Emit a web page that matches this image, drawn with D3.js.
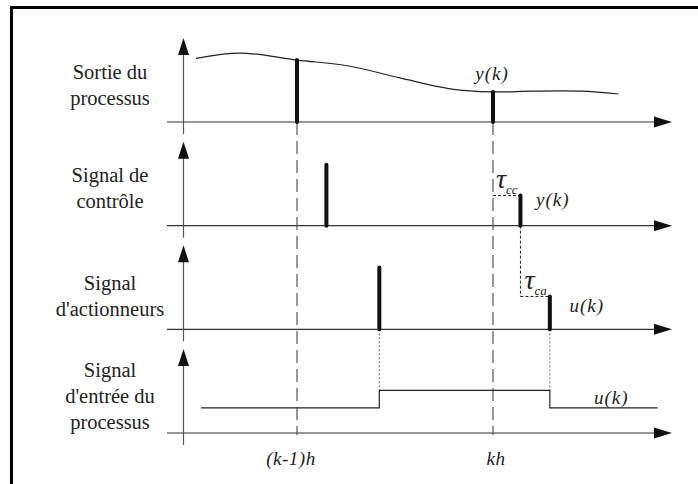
<!DOCTYPE html>
<html>
<head>
<meta charset="utf-8">
<script src="https://cdn.jsdelivr.net/npm/d3@7"></script>
<style>
  body { margin: 0; background: #fff; }
</style>
</head>
<body>
<div id="chart"></div>
<script>
// time is in tenths of a period: (k-1)h = 0, kh = 10
var panels = ["sortie", "controle", "action", "entree"];
var panelLabels = [
    ["Sortie du", "processus"],
    ["Signal de", "contrôle"],
    ["Signal", "d'actionneurs"],
    ["Signal", "d'entrée du", "processus"]
];

// process output (continuous curve)
var curveT = [-5.15, -2.9, 0, 2.65, 5.25, 7.9, 10, 12, 14.5, 16.4];
var curveV = [9.1, 9.85, 8.85, 8.0, 6.3, 4.7, 4.3, 4.4, 4.4, 4.0];

// sampled impulses per panel
var sortieT = [0, 10];
var sortieV = [8.85, 4.3];
var controleT = [1.5, 11.4];
var controleV = [8.7, 4.3];
var actionT = [4.2, 12.9];
var actionV = [8.85, 4.7];

// zero-order hold input
var entreeT = [-4.9, 4.2, 12.9, 18.4];
var entreeV = [3.6, 6.1, 3.6, 3.6];

var tickT = [0, 10];
var tickLabels = ["(k-1)h", "kh"];

var svgWidth = 698;
var svgHeight = 484;
var serif = "'Liberation Serif'";

var svg = d3.select("#chart")
    .append("svg")
    .attr("width", svgWidth)
    .attr("height", svgHeight);

// frame (runs off the right / bottom of the picture)
svg.append("rect")
    .attr("x", 11.5)
    .attr("y", 7.5)
    .attr("width", 720)
    .attr("height", 520)
    .attr("fill", "none")
    .attr("stroke", "#000")
    .attr("stroke-width", 3);

var x = d3.scaleLinear().domain([0, 10]).range([297, 493]);
var base = d3.scalePoint().domain(panels).range([122, 433]);
var amp = d3.scaleLinear().domain([0, 10]).range([0, 70]);

function yOf(p, v) { return base(p) - amp(v); }

var axisX0 = 167, axisX1 = 672, axisLeft = 183.5;

panels.forEach(function(p, i) {
    var b = base(p);
    var g = svg.append("g");

    // horizontal axis + arrow
    g.append("line")
        .attr("x1", axisX0).attr("x2", axisX1 - 14)
        .attr("y1", b).attr("y2", b)
        .attr("stroke", "#333").attr("stroke-width", 1.2);
    g.append("path")
        .attr("d", `M${axisX1},${b} L${axisX1 - 18},${b - 5.5} L${axisX1 - 18},${b + 5.5} Z`)
        .attr("fill", "#111");

    // vertical axis + arrow
    var top = b - 84;
    g.append("line")
        .attr("x1", axisLeft).attr("x2", axisLeft)
        .attr("y1", top + 14).attr("y2", b + 12)
        .attr("stroke", "#555").attr("stroke-width", 1.2);
    g.append("path")
        .attr("d", `M${axisLeft},${top} L${axisLeft - 5.5},${top + 17} L${axisLeft + 5.5},${top + 17} Z`)
        .attr("fill", "#111");

    // panel label
    var lines = panelLabels[i];
    var first = (i === 2) ? -39 : -31 - (lines.length - 1) * 12.5;
    g.selectAll("text.lab")
        .data(lines)
        .enter()
        .append("text")
        .attr("class", "lab")
        .attr("x", 110)
        .attr("y", (d, j) => b + first + j * 26)
        .attr("text-anchor", "middle")
        .attr("font-size", "20.5px")
        .attr("fill", "#222")
        .style("font-family", serif)
        .text(d => d);
});

// dashed sampling instants
svg.selectAll("line.sample")
    .data(tickT)
    .enter()
    .append("line")
    .attr("x1", d => x(d)).attr("x2", d => x(d))
    .attr("y1", base("sortie")).attr("y2", base("entree") + 2)
    .attr("stroke", "#555")
    .attr("stroke-width", 1.2)
    .attr("stroke-dasharray", "13,6");

// process output curve
var curve = d3.line()
    .x((d, i) => x(curveT[i]))
    .y(d => yOf("sortie", d))
    .curve(d3.curveCatmullRom);
svg.append("path")
    .attr("d", curve(curveV))
    .attr("fill", "none")
    .attr("stroke", "#222")
    .attr("stroke-width", 1.2);

// impulses
function impulses(p, ts, vs) {
    svg.selectAll(null)
        .data(ts)
        .enter()
        .append("line")
        .attr("x1", d => x(d)).attr("x2", d => x(d))
        .attr("y1", base(p))
        .attr("y2", (d, i) => yOf(p, vs[i]))
        .attr("stroke", "#111")
        .attr("stroke-width", 4)
        .attr("stroke-linecap", "round");
}

// dotted links actuator -> input step
svg.selectAll(null)
    .data(actionT)
    .enter()
    .append("line")
    .attr("x1", d => x(d)).attr("x2", d => x(d))
    .attr("y1", base("action"))
    .attr("y2", yOf("entree", entreeV[1]))
    .attr("stroke", "#666")
    .attr("stroke-width", 1)
    .attr("stroke-dasharray", "2,2");

// delay markers tau_cc and tau_ca
var tauPath = [
    [x(tickT[1]), yOf("controle", controleV[1]), x(controleT[1]), yOf("controle", controleV[1])],
    [x(controleT[1]), base("controle"), x(controleT[1]), yOf("action", actionV[1])],
    [x(controleT[1]), yOf("action", actionV[1]), x(actionT[1]), yOf("action", actionV[1])]
];
svg.selectAll("line.tau")
    .data(tauPath)
    .enter()
    .append("line")
    .attr("x1", d => d[0]).attr("y1", d => d[1])
    .attr("x2", d => d[2]).attr("y2", d => d[3])
    .attr("stroke", "#222")
    .attr("stroke-width", 1)
    .attr("stroke-dasharray", "3,2");

impulses("sortie", sortieT, sortieV);
impulses("controle", controleT, controleV);
impulses("action", actionT, actionV);

// zero-order hold input signal
var hold = d3.line()
    .x(d => x(d[0]))
    .y(d => yOf("entree", d[1]))
    .curve(d3.curveStepAfter);
svg.append("path")
    .attr("d", hold(entreeT.map((t, i) => [t, entreeV[i]])))
    .attr("fill", "none")
    .attr("stroke", "#222")
    .attr("stroke-width", 1.2);

// tau labels
function tau(xp, yp, sub) {
    var t = svg.append("text")
        .attr("x", xp).attr("y", yp)
        .attr("font-size", "28px")
        .attr("font-style", "italic")
        .attr("fill", "#222")
        .style("font-family", serif);
    t.append("tspan").text("τ");
    t.append("tspan")
        .attr("font-size", "13px")
        .attr("dy", 6)
        .text(sub);
}
tau(x(tickT[1]) + 3, yOf("controle", controleV[1]) - 8, "cc");
tau(x(controleT[1]) + 4, yOf("action", actionV[1]) - 7, "ca");

// signal value labels
var valueLabels = [
    { t: tickT[1] - 0.9, y: yOf("sortie", sortieV[1]) - 12, s: "y(k)" },
    { t: controleT[1] + 0.8, y: yOf("controle", controleV[1]) + 10, s: "y(k)" },
    { t: actionT[1] + 1.0, y: yOf("action", actionV[1]) + 16, s: "u(k)" },
    { t: actionT[1] + 2.25, y: yOf("entree", entreeV[2]) - 4, s: "u(k)" }
];
svg.selectAll("text.val")
    .data(valueLabels)
    .enter()
    .append("text")
    .attr("class", "val")
    .attr("x", d => x(d.t))
    .attr("y", d => d.y)
    .attr("font-size", "19px")
    .attr("font-style", "italic")
    .attr("letter-spacing", "1px")
    .attr("fill", "#222")
    .style("font-family", serif)
    .text(d => d.s);

// time tick labels
svg.selectAll("text.tick")
    .data(tickT)
    .enter()
    .append("text")
    .attr("class", "tick")
    .attr("x", (d, i) => x(d) + (i === 0 ? -6 : 3))
    .attr("y", 465)
    .attr("text-anchor", "middle")
    .attr("font-size", "19px")
    .attr("font-style", "italic")
    .attr("letter-spacing", "0.5px")
    .attr("fill", "#222")
    .style("font-family", serif)
    .text((d, i) => tickLabels[i]);
</script>
</body>
</html>
